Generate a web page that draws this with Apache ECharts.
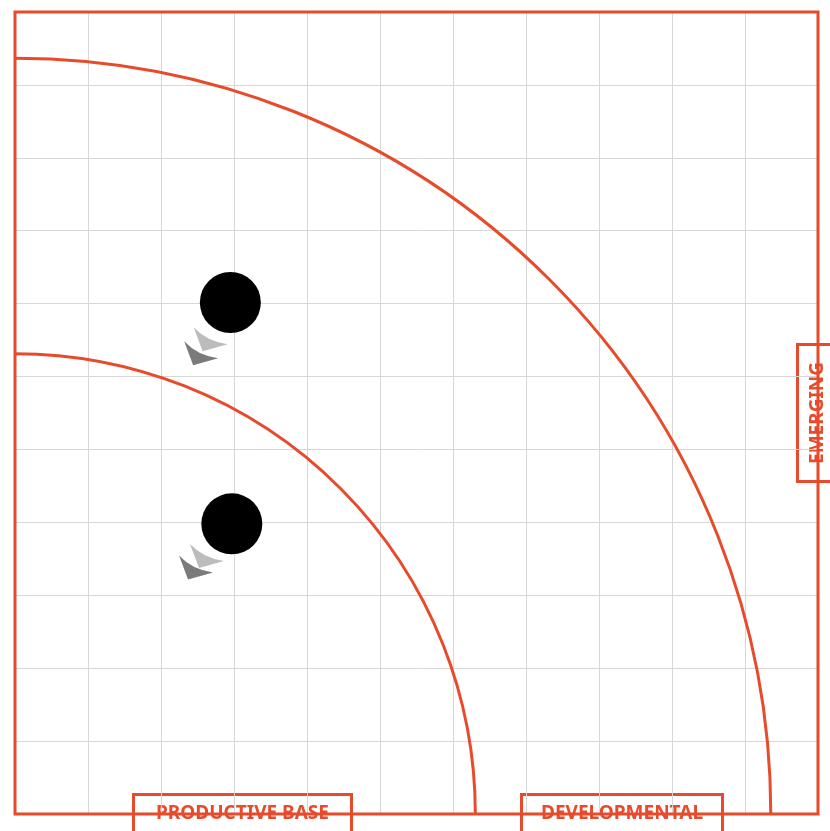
<!DOCTYPE html>
<html>
<head>
<meta charset="utf-8">
<script src="https://cdn.jsdelivr.net/npm/echarts@6/dist/echarts.min.js"></script>
<style>html,body{margin:0;padding:0;background:#fff}#c{width:830px;height:831px}</style>
</head>
<body>
<div id="c"></div>
<script>
// ---- data ----
const dotX = [2.95, 2.97];
const dotY = [7.015, 3.98];
const trailLightX = [2.68, 2.63];
const trailLightY = [6.51, 3.54];
const trailDarkX = [2.55, 2.48];
const trailDarkY = [6.32, 3.38];
const ringRadii = [6.31, 10.36];
const labelBottom = ['PRODUCTIVE BASE', 'DEVELOPMENTAL'];
const labelRight = 'EMERGING';

const ORANGE = '#e64b2b';
const chevron = 'path://M0,0 Q13,14 34,17 L9,24 Z';

const chart = echarts.init(document.getElementById('c'));
const axisCommon = {
  type: 'value', min: 0, max: 11, interval: 1,
  axisLine: {show: false}, axisTick: {show: false}, axisLabel: {show: false},
  splitLine: {show: true, lineStyle: {color: '#d7d7d7', width: 1}}
};
function boxGroup(x, y, w, h, text, tx, ty, rot) {
  return {
    type: 'group', z: 100,
    children: [
      {type: 'rect', shape: {x: x, y: y, width: w, height: h},
       style: {fill: '#fff', stroke: ORANGE, lineWidth: 3}},
      {type: 'text', x: tx, y: ty, rotation: rot || 0,
       style: {text: text, fill: ORANGE, fontFamily: 'Noto Sans', fontSize: 19, fontWeight: 'bold',
               align: 'center', verticalAlign: 'middle'}}
    ]
  };
}
chart.setOption({
  animation: false,
  grid: {left: 15, top: 12, right: 12, bottom: 17, show: false},
  xAxis: axisCommon,
  yAxis: axisCommon,
  series: [
    {
      type: 'custom', z: 3, clip: false,
      data: ringRadii.map(r => [0, 0, r]),
      renderItem: function (params, api) {
        const c = api.coord([0, 0]);
        const s = api.size([api.value(2), api.value(2)]);
        return {
          type: 'arc',
          shape: {cx: c[0], cy: c[1], r: (s[0] + s[1]) / 2, startAngle: -Math.PI / 2, endAngle: 0, clockwise: true},
          style: {stroke: ORANGE, lineWidth: 3, fill: null}
        };
      }
    },
    {
      type: 'custom', z: 7, clip: false,
      data: [[0, 0, 11, 11]],
      renderItem: function (params, api) {
        const a = api.coord([api.value(0), api.value(1)]);
        const b = api.coord([api.value(2), api.value(3)]);
        return {
          type: 'rect',
          shape: {x: a[0], y: b[1], width: b[0] - a[0], height: a[1] - b[1]},
          style: {stroke: ORANGE, lineWidth: 3, fill: null}
        };
      }
    },
    {
      type: 'scatter', z: 4, symbol: chevron, symbolSize: [34, 24], symbolKeepAspect: false,
      itemStyle: {color: '#bcbcbc', opacity: 1},
      data: trailLightX.map((x, i) => [x, trailLightY[i]])
    },
    {
      type: 'scatter', z: 5, symbol: chevron, symbolSize: [34, 24], symbolKeepAspect: false,
      itemStyle: {color: '#7b7b7b', opacity: 1},
      data: trailDarkX.map((x, i) => [x, trailDarkY[i]])
    },
    {
      type: 'scatter', z: 6, symbol: 'circle', symbolSize: 61,
      itemStyle: {color: '#000', opacity: 1},
      data: dotX.map((x, i) => [x, dotY[i]])
    }
  ],
  graphic: [
    boxGroup(133.5, 794.5, 218, 60, labelBottom[0], 242.5, 814),
    boxGroup(521.5, 794.5, 201, 60, labelBottom[1], 622, 814),
    boxGroup(797.5, 344.5, 60, 137, labelRight, 818, 413, Math.PI / 2)
  ]
});
</script>
</body>
</html>
